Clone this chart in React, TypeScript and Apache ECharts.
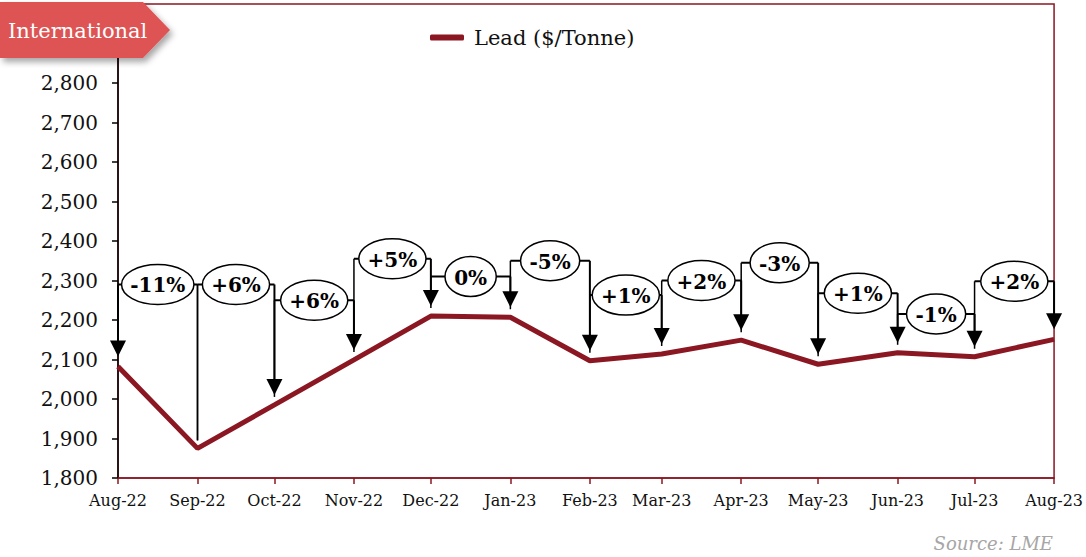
import React, { useEffect, useRef } from "react";
import * as echarts from "echarts";

const DATES = [
  "2022-08-01", "2022-09-01", "2022-10-01", "2022-11-01", "2022-12-01", "2023-01-01",
  "2023-02-01", "2023-03-01", "2023-04-01", "2023-05-01", "2023-06-01", "2023-07-01", "2023-08-01",
];
const MONTH_LABELS = [
  "Aug-22", "Sep-22", "Oct-22", "Nov-22", "Dec-22", "Jan-23",
  "Feb-23", "Mar-23", "Apr-23", "May-23", "Jun-23", "Jul-23", "Aug-23",
];
const LEAD = [2082, 1875, 1985, 2099, 2210, 2207, 2097, 2114, 2149, 2088, 2117, 2107, 2151];
const CHANGE_LABELS = ["-11%", "+6%", "+6%", "+5%", "0%", "-5%", "+1%", "+2%", "-3%", "+1%", "-1%", "+2%"];
const BRACKET_LEVELS = [2290, 2290, 2250, 2355, 2310, 2350, 2263, 2300, 2345, 2268, 2215, 2298];
const ARROW_SIDE = ["start", "end", "end", "end", "end", "end", "end", "end", "end", "end", "end", "end"];
const Y_TICKS_SHOWN_MAX = 2800;

const SERIES_NAME = "Lead ($/Tonne)";
const LINE_COLOR = "#8A1722";
const SERIF = '"DejaVu Serif", Georgia, serif';

function toTime(s: string): number {
  const [y, m, d] = s.split("-").map(Number);
  return new Date(y, m - 1, d).getTime();
}

let measureCtx: CanvasRenderingContext2D | null = null;
function measure(text: string, font: string): number {
  if (!measureCtx) measureCtx = document.createElement("canvas").getContext("2d");
  if (!measureCtx) return text.length * 12;
  measureCtx.font = font;
  return measureCtx.measureText(text).width;
}

export default function App() {
  const ref = useRef<HTMLDivElement>(null);

  useEffect(() => {
    if (!ref.current) return;
    const chart = echarts.init(ref.current, undefined, { renderer: "svg" });
    const times = DATES.map(toTime);
    const labelFont = `bold 19px ${SERIF}`;

    const option: any = {
      animation: false,
      backgroundColor: "#ffffff",
      grid: {
        left: 118,
        right: 29,
        top: 4,
        bottom: 79,
        show: true,
        borderColor: LINE_COLOR,
        borderWidth: 1.5,
        backgroundColor: "transparent",
      },
      legend: {
        data: [SERIES_NAME],
        left: 425,
        top: 22,
        icon: "roundRect",
        itemWidth: 34,
        itemHeight: 6,
        textStyle: { fontFamily: SERIF, fontSize: 21, color: "#111", padding: [0, 0, 0, 5] },
      },
      xAxis: {
        type: "time",
        min: times[0],
        max: times[times.length - 1],
        splitNumber: 12,
        minInterval: 28 * 86400000,
        maxInterval: 31 * 86400000,
        axisLine: { show: true, lineStyle: { color: LINE_COLOR, width: 1.5 } },
        axisTick: { show: true, length: 6, lineStyle: { color: LINE_COLOR, width: 1.5 } },
        splitLine: { show: false },
        axisLabel: {
          show: true,
          margin: 14,
          hideOverlap: false,
          showMinLabel: true,
          showMaxLabel: true,
          fontFamily: SERIF,
          fontSize: 16,
          color: "#111",
          formatter: (val: number) => {
            const idx = times.findIndex((t) => Math.abs(t - val) < 86400000 * 2);
            return idx >= 0 ? MONTH_LABELS[idx] : "";
          },
        },
      },
      yAxis: {
        type: "value",
        min: 1800,
        max: 3000,
        interval: 100,
        axisLine: { show: true, lineStyle: { color: "#000", width: 1.5 } },
        axisTick: { show: true, length: 6, lineStyle: { color: "#000", width: 1.5 } },
        splitLine: { show: false },
        axisLabel: {
          margin: 20,
          fontFamily: SERIF,
          fontSize: 20,
          color: "#111",
          formatter: (v: number) => (v > Y_TICKS_SHOWN_MAX ? "" : v.toLocaleString("en-US")),
        },
      },
      series: [
        {
          name: SERIES_NAME,
          type: "line",
          data: LEAD.map((v, i) => [times[i], v]),
          symbol: "none",
          lineStyle: { color: LINE_COLOR, width: 5 },
          itemStyle: { color: LINE_COLOR },
          z: 2,
        },
        {
          type: "custom",
          name: "changes",
          coordinateSystem: "cartesian2d",
          data: CHANGE_LABELS.map((_, i) => [times[i], BRACKET_LEVELS[i]]),
          encode: { x: 0, y: 1 },
          z: 5,
          silent: true,
          renderItem: (params: any, api: any) => {
            const i = params.dataIndex;
            const a = api.coord([times[i], BRACKET_LEVELS[i]]);
            const b = api.coord([times[i + 1], BRACKET_LEVELS[i]]);
            const p0 = api.coord([times[i], LEAD[i]]);
            const p1 = api.coord([times[i + 1], LEAD[i + 1]]);
            const by = a[1];
            const label = CHANGE_LABELS[i];
            const w = measure(label, labelFont);
            const rx = Math.min((b[0] - a[0]) / 2, w / 2 + 10);
            const cx = (a[0] + b[0]) / 2;
            const stroke = { stroke: "#000", lineWidth: 2 };
            const children: any[] = [
              { type: "line", shape: { x1: a[0], y1: by, x2: b[0], y2: by }, style: stroke },
            ];
            const vertical = (x: number, py: number, arrow: boolean) => {
              const tip = py - 10;
              if (arrow) {
                const base = tip - 16;
                children.push({ type: "line", shape: { x1: x, y1: by, x2: x, y2: base + 1 }, style: stroke });
                children.push({
                  type: "polygon",
                  shape: { points: [[x - 8, base], [x + 8, base], [x, tip]] },
                  style: { fill: "#000" },
                });
              } else {
                children.push({ type: "line", shape: { x1: x, y1: by, x2: x, y2: tip + 2 }, style: { stroke: "#000", lineWidth: 1.5 } });
              }
            };
            vertical(a[0], p0[1], ARROW_SIDE[i] === "start");
            vertical(b[0], p1[1], ARROW_SIDE[i] === "end");
            children.push({
              type: "ellipse",
              shape: { cx, cy: by, rx, ry: 20 },
              style: { fill: "#fff", stroke: "#000", lineWidth: 1.5 },
            });
            children.push({
              type: "text",
              style: {
                text: label,
                x: cx,
                y: by + 1,
                align: "center",
                verticalAlign: "middle",
                fontFamily: SERIF,
                fontWeight: "bold",
                fontSize: 20,
                fill: "#000",
              },
            });
            return { type: "group", children };
          },
        },
      ],
      graphic: [
        {
          type: "group",
          left: 0,
          top: 2,
          z: 100,
          zlevel: 1,
          children: [
            {
              type: "polygon",
              z: 100,
              shape: { points: [[0, 0], [143, 0], [170, 28], [143, 56], [0, 56]] },
              style: {
                fill: "#DE5252",
                shadowBlur: 6,
                shadowColor: "rgba(0,0,0,0.35)",
                shadowOffsetX: 3,
                shadowOffsetY: 4,
              },
            },
            {
              type: "text",
              z: 101,
              x: 8,
              y: 29,
              style: {
                text: "International",
                fontFamily: SERIF,
                fontSize: 21,
                fill: "#ffffff",
                verticalAlign: "middle",
                align: "left",
              },
            },
          ],
        },
        {
          type: "text",
          right: 33,
          top: 534,
          style: {
            text: "Source: LME",
            fontFamily: SERIF,
            fontStyle: "italic",
            fontSize: 18,
            fill: "#A6A6A6",
          },
        },
      ],
    };

    chart.setOption(option);
    return () => chart.dispose();
  }, []);

  return (
    <div
      ref={ref}
      style={{ position: "absolute", left: 0, top: 0, width: 1086, height: 557, background: "#fff" }}
    />
  );
}
